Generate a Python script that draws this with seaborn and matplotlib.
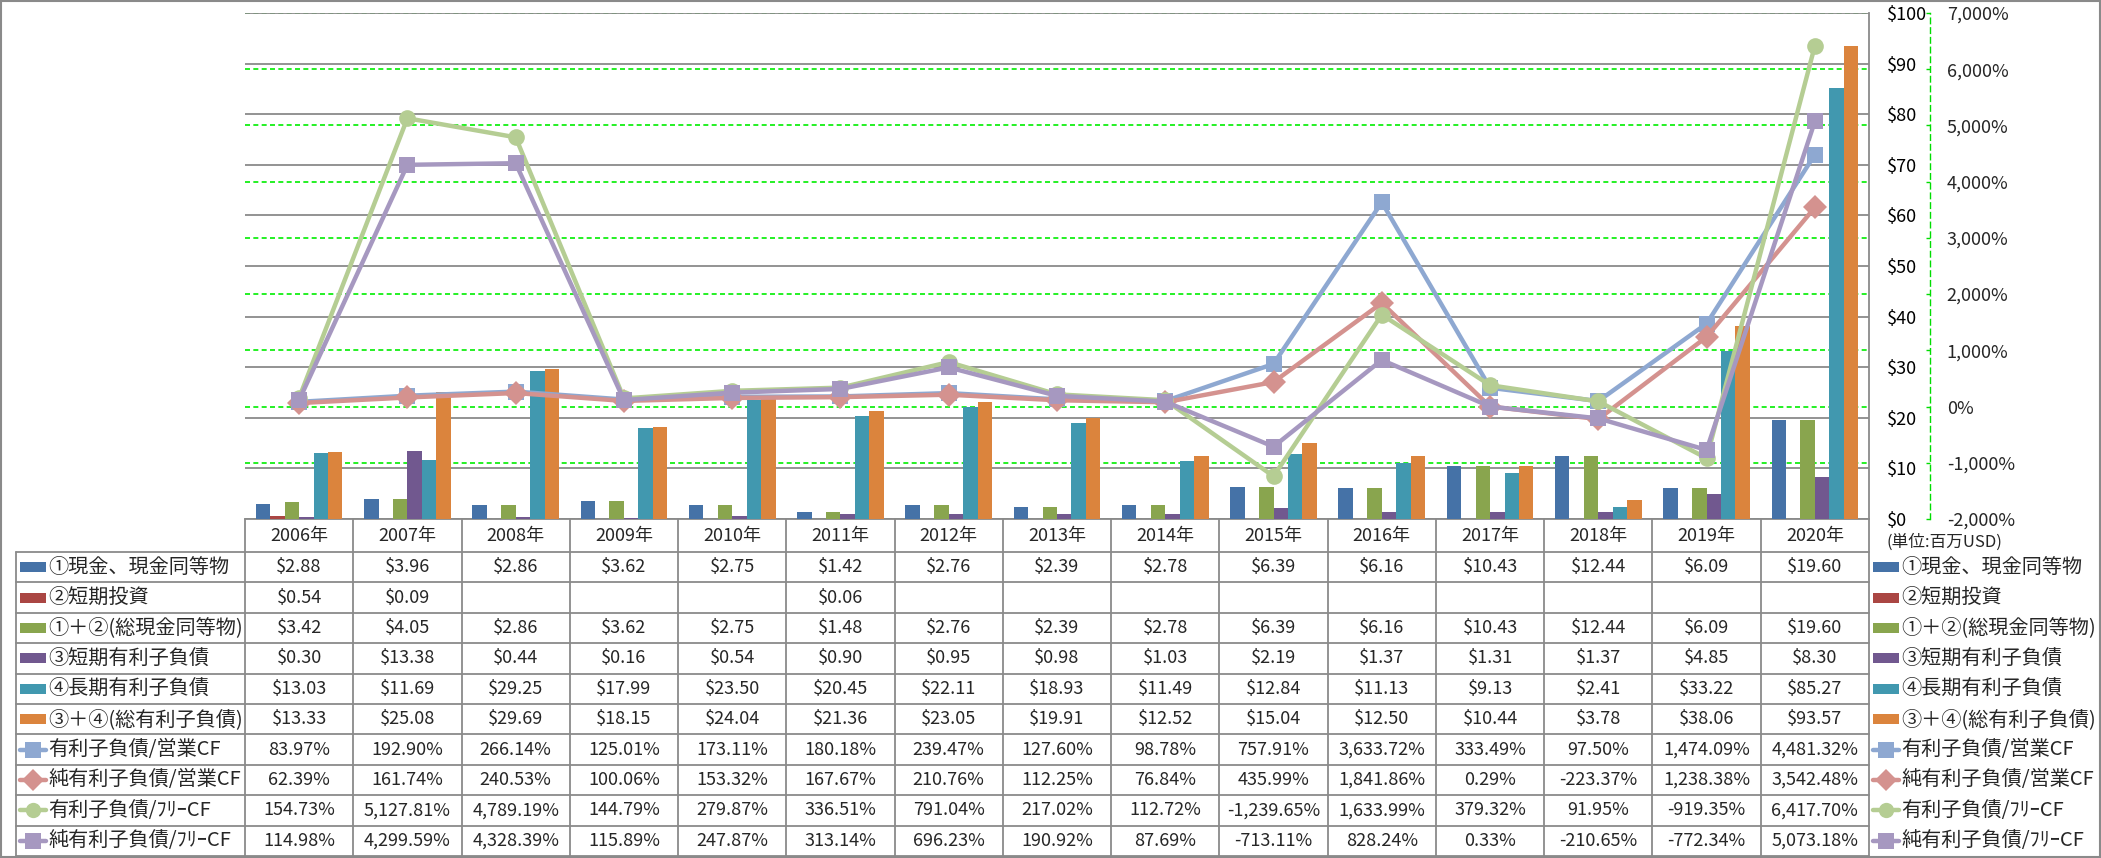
import numpy as np
import pandas as pd
import matplotlib
matplotlib.use("Agg")
import matplotlib.pyplot as plt
import seaborn as sns
from matplotlib.patches import Rectangle
from matplotlib.lines import Line2D

# ---------------- data ----------------
years = ["2006年", "2007年", "2008年", "2009年", "2010年", "2011年", "2012年", "2013年",
         "2014年", "2015年", "2016年", "2017年", "2018年", "2019年", "2020年"]

bar_names = ["①現金、現金同等物", "②短期投資", "①＋②(総現金同等物)",
             "③短期有利子負債", "④長期有利子負債", "③＋④(総有利子負債)"]
cash = [2.88, 3.96, 2.86, 3.62, 2.75, 1.42, 2.76, 2.39, 2.78, 6.39, 6.16, 10.43, 12.44, 6.09, 19.60]
st_invest = [0.54, 0.09, np.nan, np.nan, np.nan, 0.06, np.nan, np.nan, np.nan, np.nan,
             np.nan, np.nan, np.nan, np.nan, np.nan]
total_cash = [3.42, 4.05, 2.86, 3.62, 2.75, 1.48, 2.76, 2.39, 2.78, 6.39, 6.16, 10.43, 12.44, 6.09, 19.60]
st_debt = [0.30, 13.38, 0.44, 0.16, 0.54, 0.90, 0.95, 0.98, 1.03, 2.19, 1.37, 1.31, 1.37, 4.85, 8.30]
lt_debt = [13.03, 11.69, 29.25, 17.99, 23.50, 20.45, 22.11, 18.93, 11.49, 12.84, 11.13, 9.13, 2.41, 33.22, 85.27]
total_debt = [13.33, 25.08, 29.69, 18.15, 24.04, 21.36, 23.05, 19.91, 12.52, 15.04, 12.50, 10.44, 3.78, 38.06, 93.57]
bar_values = [cash, st_invest, total_cash, st_debt, lt_debt, total_debt]

line_names = ["有利子負債/営業CF", "純有利子負債/営業CF", "有利子負債/ﾌﾘｰCF", "純有利子負債/ﾌﾘｰCF"]
debt_opcf = [83.97, 192.90, 266.14, 125.01, 173.11, 180.18, 239.47, 127.60, 98.78, 757.91,
             3633.72, 333.49, 97.50, 1474.09, 4481.32]
netdebt_opcf = [62.39, 161.74, 240.53, 100.06, 153.32, 167.67, 210.76, 112.25, 76.84, 435.99,
                1841.86, 0.29, -223.37, 1238.38, 3542.48]
debt_fcf = [154.73, 5127.81, 4789.19, 144.79, 279.87, 336.51, 791.04, 217.02, 112.72, -1239.65,
            1633.99, 379.32, 91.95, -919.35, 6417.70]
netdebt_fcf = [114.98, 4299.59, 4328.39, 115.89, 247.87, 313.14, 696.23, 190.92, 87.69, -713.11,
               828.24, 0.33, -210.65, -772.34, 5073.18]
line_values = [debt_opcf, netdebt_opcf, debt_fcf, netdebt_fcf]

unit_label = "(単位:百万USD)"

# ---------------- styles ----------------
bar_colors = ["#4572A7", "#AA4643", "#89A54E", "#71588F", "#4198AF", "#DB843D"]
line_colors = ["#8EA8D1", "#D4928F", "#B5CD93", "#A698C0"]
line_markers = ["s", "D", "o", "s"]

sns.set_theme(style="white")
plt.rcParams["font.family"] = ["Noto Sans CJK JP", "DejaVu Sans"]

W, H = 2101, 858
PL, PR, PT, PB = 245, 1869, 13, 519
FS = 13      # numbers
FL = 14.5    # Japanese labels

fig = plt.figure(figsize=(W / 100, H / 100), dpi=100)
ax = fig.add_axes([PL / W, 1 - PB / H, (PR - PL) / W, (PB - PT) / H])

bar_df = pd.DataFrame({
    "year": np.tile(years, len(bar_names)),
    "series": np.repeat(bar_names, len(years)),
    "value": np.concatenate([np.asarray(v, dtype=float) for v in bar_values]),
})
sns.barplot(data=bar_df, x="year", y="value", hue="series", order=years,
            hue_order=bar_names, palette=bar_colors, saturation=1, width=0.8,
            errorbar=None, linewidth=0, legend=False, ax=ax, zorder=3)

# secondary (percent) axis
ax2 = ax.twinx()

ax.set_xlim(-0.5, len(years) - 0.5)
y1lo, y1hi = 0, 100
ax.set_ylim(y1lo, y1hi)
ax.set_yticks(range(0, 101, 10), labels=[f"${v}" for v in range(0, 101, 10)])
ax.yaxis.set_ticks_position("right")
ax.tick_params(axis="y", left=False, labelleft=False, right=True, labelright=True,
               length=0, pad=13, labelsize=FS, labelcolor="black")
ax.tick_params(axis="x", length=0, labelbottom=False, bottom=False)
ax.set_xlabel("")
ax.set_ylabel("")
ax.grid(axis="y", color="#8a8a8a", lw=1.3, zorder=0.5)
ax.grid(axis="x", visible=False)
ax.set_axisbelow(True)
for s in ["left", "top"]:
    ax.spines[s].set_visible(False)
for s in ["right", "bottom"]:
    ax.spines[s].set_color("#8a8a8a")
    ax.spines[s].set_linewidth(1.3)

y2lo, y2hi = -2000, 7000
ax2.set_ylim(y2lo, y2hi)
pticks = list(range(-2000, 7001, 1000))
ax2.set_yticks(pticks, labels=[f"{v:,}%" for v in pticks])
for lbl, v in zip(ax2.get_yticklabels(), pticks):
    lbl.set_color("red" if v < 0 else "black")
ax2.tick_params(axis="y", direction="in", length=3, color="#00DD00", width=1,
                pad=12, labelsize=FS)
ax2.spines["right"].set_position(("axes", 1 + 61 / (PR - PL)))
ax2.spines["right"].set_color("#00DD00")
ax2.spines["right"].set_linestyle((0, (4, 3)))
ax2.spines["right"].set_linewidth(1)
for s in ["left", "top", "bottom"]:
    ax2.spines[s].set_visible(False)
ax2.grid(False)

# green dashed percent gridlines drawn behind bars (and below gray grid)
for p in pticks:
    yv = (p - y2lo) / (y2hi - y2lo) * (y1hi - y1lo) + y1lo
    ax.axhline(yv, color="#00EE00", lw=1.2, ls=(0, (3, 2)), zorder=0.3)

line_df = pd.DataFrame({
    "year": np.tile(years, len(line_names)),
    "series": np.repeat(line_names, len(years)),
    "value": np.concatenate([np.asarray(v, dtype=float) for v in line_values]),
})
sns.lineplot(data=line_df, x="year", y="value", hue="series", style="series",
             hue_order=line_names, style_order=line_names,
             palette=dict(zip(line_names, line_colors)),
             markers=dict(zip(line_names, line_markers)), dashes=False,
             linewidth=3.2, markersize=12, markeredgewidth=0, sort=False,
             legend=False, ax=ax2)
ax2.set_xlim(-0.5, len(years) - 0.5)
ax2.set_ylim(y2lo, y2hi)
ax2.set_xlabel("")
ax2.set_ylabel("")

# ---------------- data table ----------------
oax = fig.add_axes([0, 0, 1, 1], zorder=5)
oax.set_xlim(0, W)
oax.set_ylim(H, 0)
oax.axis("off")

gc = "#8a8a8a"
TL = 16
HT = 552
RH = 30.4
nrows = len(bar_names) + len(line_names)
cw = (PR - PL) / len(years)

for i in range(nrows + 1):
    yb = HT + i * RH
    oax.plot([TL, PR], [yb, yb], color=gc, lw=1.3)
oax.plot([TL, TL], [HT, HT + nrows * RH], color=gc, lw=1.3)
for k in range(len(years) + 1):
    xk = PL + k * cw
    oax.plot([xk, xk], [PB, HT + nrows * RH], color=gc, lw=1.3)

for k, yr in enumerate(years):
    oax.text(PL + (k + 0.5) * cw, (PB + HT) / 2 + 1, yr, ha="center", va="center", fontsize=FS)

rows = [(n, v, "bar", c, None) for n, v, c in zip(bar_names, bar_values, bar_colors)] + \
       [(n, v, "line", c, m) for n, v, c, m in zip(line_names, line_values, line_colors, line_markers)]

def swatch(x0, yc, kind, color, marker):
    if kind == "bar":
        oax.add_patch(Rectangle((x0, yc - 5), 26, 10, color=color, lw=0))
    else:
        oax.add_line(Line2D([x0, x0 + 26], [yc, yc], color=color, lw=3.2))
        oax.add_line(Line2D([x0 + 13], [yc], color=color, marker=marker,
                            markersize=11, markeredgewidth=0, lw=0))

for i, (name, vals, kind, color, marker) in enumerate(rows):
    yc = HT + (i + 0.5) * RH
    swatch(20, yc, kind, color, marker)
    oax.text(48, yc, name, ha="left", va="center", fontsize=FL)
    swatch(1873, yc, kind, color, marker)
    oax.text(1901, yc, name, ha="left", va="center", fontsize=FL)
    for k, v in enumerate(vals):
        if v is None or (isinstance(v, float) and np.isnan(v)):
            continue
        s = f"${v:.2f}" if kind == "bar" else f"{v:,.2f}%"
        oax.text(PL + (k + 0.5) * cw, yc, s, ha="center", va="center", fontsize=FS)

oax.text(1886, 542, unit_label, ha="left", va="center", fontsize=12)

# outer frame
oax.add_patch(Rectangle((1, 1), W - 2.5, H - 2.5, fill=False, edgecolor=gc, lw=1.5))

fig.savefig("out.png", dpi=100)
